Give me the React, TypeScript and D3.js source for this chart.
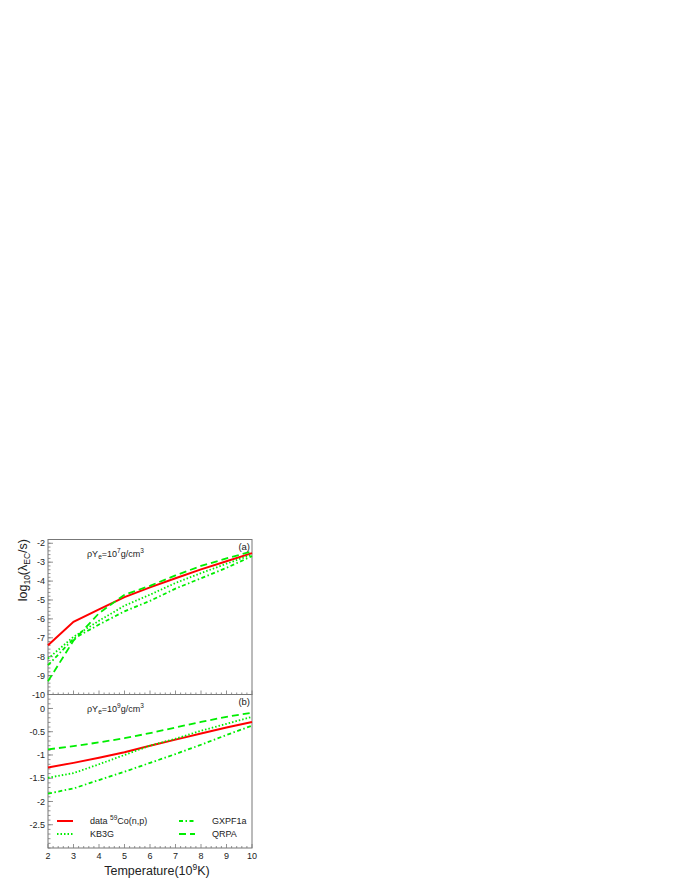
import * as d3 from "d3";
import React from "react";

// temperatures (10^9 K)
const temps = [2, 3, 4, 5, 6, 7, 8, 9, 10];

// panel (a): rhoYe = 10^7 g/cm^3
const dataA = [-7.4, -6.15, -5.5, -4.85, -4.33, -3.85, -3.38, -2.95, -2.52];
const kb3gA = [-8.1, -6.95, -6.1, -5.3, -4.72, -4.1, -3.58, -3.08, -2.6];
const gxpfA = [-8.45, -7.05, -6.3, -5.6, -5.05, -4.4, -3.85, -3.3, -2.68];
const qrpaA = [-9.3, -7.15, -5.7, -4.72, -4.25, -3.7, -3.2, -2.8, -2.43];

// panel (b): rhoYe = 10^9 g/cm^3
const dataB = [-1.27, -1.17, -1.06, -0.94, -0.8, -0.67, -0.54, -0.41, -0.29];
const kb3gB = [-1.49, -1.39, -1.2, -1.0, -0.8, -0.65, -0.48, -0.33, -0.18];
const gxpfB = [-1.83, -1.72, -1.54, -1.36, -1.17, -0.98, -0.78, -0.57, -0.37];
const qrpaB = [-0.88, -0.81, -0.73, -0.64, -0.53, -0.41, -0.29, -0.18, -0.09];

const xTicks = [2, 3, 4, 5, 6, 7, 8, 9, 10];
const yTicksA = [-10, -9, -8, -7, -6, -5, -4, -3, -2];
const yTicksB = [-2.5, -2, -1.5, -1, -0.5, 0];

const series = [
  { name: "data", color: "#ff0000", dash: null, width: 2 },
  { name: "KB3G", color: "#00ee00", dash: "1.5,2", width: 1.8 },
  { name: "GXPF1a", color: "#00ee00", dash: "4,2.5,1.5,2.5", width: 1.8 },
  { name: "QRPA", color: "#00ee00", dash: "7,4", width: 1.8 },
];

const L = 48, R = 252;
const topA = 539.5, mid = 694.5, botB = 848;
const font = "'Liberation Sans', Arial, sans-serif";
const axisCol = "#777";

const x = d3.scaleLinear().domain([2, 10]).range([L, R]);
const yA = d3.scaleLinear().domain([-10, -1.8]).range([mid, topA]);
const yB = d3.scaleLinear().domain([-3, 0.3]).range([botB, mid]);

const Panel = ({ y, sets, ticks, minorStep, label, dens }) => {
  const [y0, y1] = y.domain();
  const minors = d3.range(Math.ceil(y0 / minorStep) * minorStep, y1 + 1e-9, minorStep);
  const xMinor = d3.range(2, 10.001, 0.2);
  const top = y.range()[1], bot = y.range()[0];
  return (
    <g>
      <rect x={L} y={top} width={R - L} height={bot - top} fill="none" stroke={axisCol} strokeWidth={1} />
      {minors.map((v, i) => (
        <line key={"m" + i} x1={L} x2={L + 2.5} y1={y(v)} y2={y(v)} stroke={axisCol} strokeWidth={0.8} />
      ))}
      {ticks.map((v) => (
        <g key={"t" + v}>
          <line x1={L} x2={L + 5} y1={y(v)} y2={y(v)} stroke={axisCol} strokeWidth={0.8} />
          <text x={L - 3} y={y(v) + 3.2} textAnchor="end" fontSize={9} fontFamily={font} fill="#222">{String(v)}</text>
        </g>
      ))}
      {xMinor.map((v, i) => (
        <line key={"xm" + i} x1={x(v)} x2={x(v)} y1={bot} y2={bot - (Math.abs(v - Math.round(v)) < 1e-6 ? 4 : 2)} stroke={axisCol} strokeWidth={0.8} />
      ))}
      {sets.map((vals, i) => {
        const s = series[i];
        const line = d3.line().x((_, k) => x(temps[k])).y((v) => y(v))(vals);
        return (
          <path key={s.name} d={line || ""} fill="none" stroke={s.color} strokeWidth={s.width}
            strokeDasharray={s.dash || undefined} />
        );
      })}
      <text x={R - 2} y={top + 10} textAnchor="end" fontSize={9.5} fontFamily={font} fill="#222">{label}</text>
      <text x={87} y={top + 17} fontSize={9} fontFamily={font} fill="#222">
        ρY<tspan fontSize={6.5} dy={2}>e</tspan><tspan dy={-2}>=10</tspan>
        <tspan fontSize={6.5} dy={-4}>{dens}</tspan><tspan dy={4}>g/cm</tspan>
        <tspan fontSize={6.5} dy={-4}>3</tspan>
      </text>
    </g>
  );
};

export default function App() {
  const legend = [
    { s: series[0], x: 57, y: 821, label: <>data <tspan fontSize={6.5} dy={-4}>59</tspan><tspan dy={4}>Co(n,p)</tspan></> },
    { s: series[1], x: 57, y: 834, label: <>KB3G</> },
    { s: series[2], x: 179, y: 821, label: <>GXPF1a</> },
    { s: series[3], x: 179, y: 834, label: <>QRPA</> },
  ];
  return (
    <svg width={680} height={880} style={{ position: "absolute", left: 0, top: 0, background: "#fff" }}>
      <Panel y={yA} sets={[dataA, kb3gA, gxpfA, qrpaA]} ticks={yTicksA} minorStep={0.2} label="(a)" dens="7" />
      <Panel y={yB} sets={[dataB, kb3gB, gxpfB, qrpaB]} ticks={yTicksB} minorStep={0.1} label="(b)" dens="9" />
      {xTicks.map((v) => (
        <text key={v} x={x(v)} y={859} textAnchor="middle" fontSize={9} fontFamily={font} fill="#222">{v}</text>
      ))}
      {legend.map((d) => (
        <g key={d.s.name}>
          <line x1={d.x} x2={d.x + 16} y1={d.y} y2={d.y} stroke={d.s.color} strokeWidth={d.s.width}
            strokeDasharray={d.s.dash || undefined} />
          <text x={d.x + 33} y={d.y + 3.2} fontSize={9} fontFamily={font} fill="#222">{d.label}</text>
        </g>
      ))}
      <text x={157} y={875} textAnchor="middle" fontSize={12.5} fontFamily={font} fill="#222">
        Temperature(10<tspan fontSize={8.5} dy={-5}>9</tspan><tspan dy={5}>K)</tspan>
      </text>
      <text transform="translate(27,539) rotate(-90)" textAnchor="end" fontSize={12.5} fontFamily={font} fill="#222">
        log<tspan fontSize={8.5} dy={3}>10</tspan><tspan dy={-3}>(λ</tspan>
        <tspan fontSize={8.5} dy={3}>EC</tspan><tspan dy={-3}>/s)</tspan>
      </text>
    </svg>
  );
}
